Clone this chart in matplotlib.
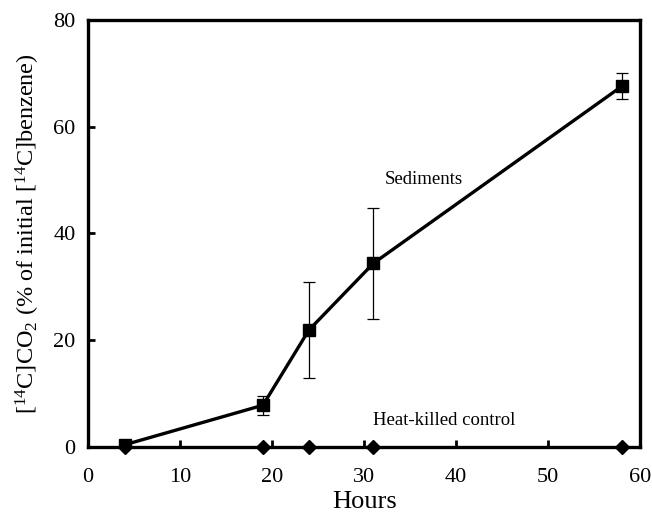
import matplotlib
matplotlib.use("Agg")
import matplotlib.pyplot as plt

plt.rcParams['font.family'] = ['Liberation Serif', 'DejaVu Serif']
plt.rcParams['mathtext.fontset'] = 'custom'
plt.rcParams['mathtext.rm'] = 'Liberation Serif'
plt.rcParams['mathtext.it'] = 'Liberation Serif:italic'
plt.rcParams['mathtext.bf'] = 'Liberation Serif:bold'

hours = [4, 19, 24, 31, 58]
sediments = [0.4, 7.8, 21.9, 34.4, 67.6]
sediments_err = [0.0, 1.8, 9.0, 10.4, 2.4]
control = [0, 0, 0, 0, 0]

fig = plt.figure(figsize=(6.52, 5.16), dpi=100)
ax = fig.add_axes([0.135, 0.134, 0.847, 0.827])

ax.errorbar(hours, sediments, yerr=sediments_err, color='black', lw=2.4,
            marker='s', markersize=8, ecolor='black', elinewidth=0.9,
            capsize=4, capthick=0.9, zorder=3)
ax.plot(hours, control, color='black', lw=0, marker='D', markersize=7.5,
        clip_on=False, zorder=4)

ax.set_xlim(0, 60)
ax.set_ylim(0, 80)
ax.set_xticks(range(0, 61, 10))
ax.set_yticks(range(0, 81, 20))
for s in ax.spines.values():
    s.set_linewidth(2.4)
ax.tick_params(direction='in', length=5, width=2, labelsize=16)
ax.tick_params(axis='x', pad=15)
ax.tick_params(axis='y', pad=9)

ax.set_xlabel('Hours', fontsize=19, labelpad=3)
ax.set_ylabel('[$^{\\mathrm{14}}$C]CO$_{\\mathrm{2}}$ (% of initial [$^{\\mathrm{14}}$C]benzene)',
              fontsize=17.5, labelpad=8)

ax.text(36.5, 50.2, 'Sediments', fontsize=13.5, ha='center', va='center')
ax.text(38.7, 4.9, 'Heat-killed control', fontsize=13.5, ha='center', va='center')

fig.savefig('out.png', dpi=100)
